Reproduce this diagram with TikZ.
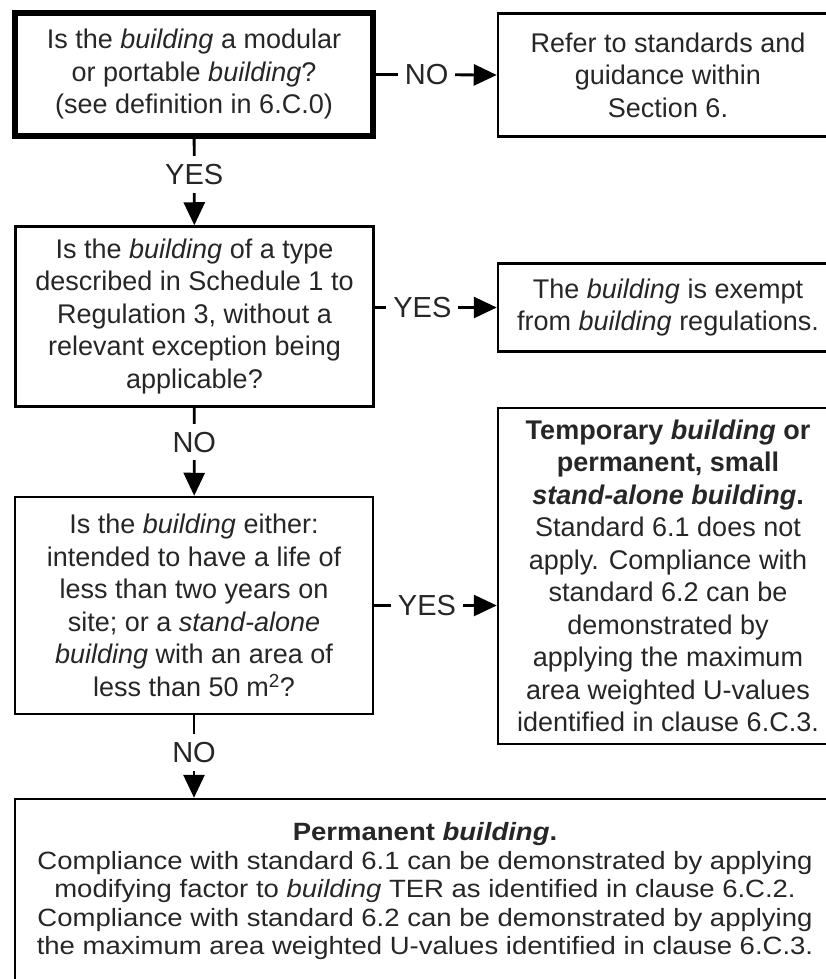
\documentclass[tikz,border=0pt]{standalone}
\usepackage{fontspec}
\setmainfont{Liberation Sans}
\newfontfamily\widefont[FakeStretch=1.1]{Liberation Sans}
\usepackage{tikz}
\usetikzlibrary{arrows.meta}

\tikzset{
  box/.style={draw,line width=2.5pt,align=center,inner sep=0pt,
    font=\fontsize{27}{32.5}\selectfont,text=black!85},
  arr/.style={line width=2.8pt,-{Triangle[length=23pt,width=21pt]}},
  lbl/.style={fill=white,inner xsep=7pt,inner ysep=8pt,
    font=\fontsize{29}{30}\selectfont,text=black!85}
}

\begin{document}
\begin{tikzpicture}[x=1pt,y=-1pt]
  \useasboundingbox (0,0) rectangle (825,979);
  % questions on the left
  \node[box,line width=6pt,minimum width=358pt,minimum height=123pt] (q1) at (194,74.5)
    {Is the \textit{building} a modular\\or portable \textit{building}?\\(see definition in 6.C.0)};
  \node[box,minimum width=358pt,minimum height=180pt] (q2) at (194.5,316.5)
    {Is the \textit{building} of a type\\described in Schedule 1 to\\Regulation 3, without a\\relevant exception being\\applicable?};
  \node[box,minimum width=358pt,minimum height=217pt] (q3) at (194,605.5)
    {Is the \textit{building} either:\\intended to have a life of\\less than two years on\\site; or a \textit{stand-alone}\\\textit{building} with an area of\\less than 50 m\textsuperscript{2}?};
  % answers on the right
  \node[box,minimum width=340pt,minimum height=123pt] (refer) at (668,75)
    {Refer to standards and\\guidance within\\Section 6.};
  \node[box,minimum width=340pt,minimum height=88pt] (exempt) at (668,307.5)
    {The \textit{building} is exempt\\from \textit{building} regulations.};
  \node[box,minimum width=340pt,minimum height=336pt] (temp) at (668,576)
    {\textbf{Temporary \textit{building} or}\\\textbf{permanent, small}\\\textbf{\textit{stand-alone building}.}\\Standard 6.1 does not\\apply. Compliance with\\standard 6.2 can be\\demonstrated by\\applying the maximum\\area weighted U-values\\identified in clause 6.C.3.};
  \node[box,font=\widefont\fontsize{25}{28.5}\selectfont,minimum width=820pt,minimum height=185pt] (perm) at (425,891.5)
    {\textbf{Permanent \textit{building}.}\\Compliance with standard 6.1 can be demonstrated by applying\\modifying factor to \textit{building} TER as identified in clause 6.C.2.\\Compliance with standard 6.2 can be demonstrated by applying\\the maximum area weighted U-values identified in clause 6.C.3.};
  % connectors
  \draw[arr] (q1) -- node[lbl,pos=0.41] {YES} (q2);
  \draw[arr] (q2) -- node[lbl,pos=0.39] {NO} (q3);
  \draw[arr] (q3.south) -- node[lbl,pos=0.45] {NO} (q3.south |- perm.north);
  \draw[arr] (q1.east) -- node[lbl,pos=0.42] {NO} (refer.west);
  \draw[arr] (q2.east |- exempt.west) -- node[lbl,pos=0.39] {YES} (exempt.west);
  \draw[arr] (q3.east) -- node[lbl,pos=0.43] {YES} (temp.west |- q3.east);
\end{tikzpicture}
\end{document}
